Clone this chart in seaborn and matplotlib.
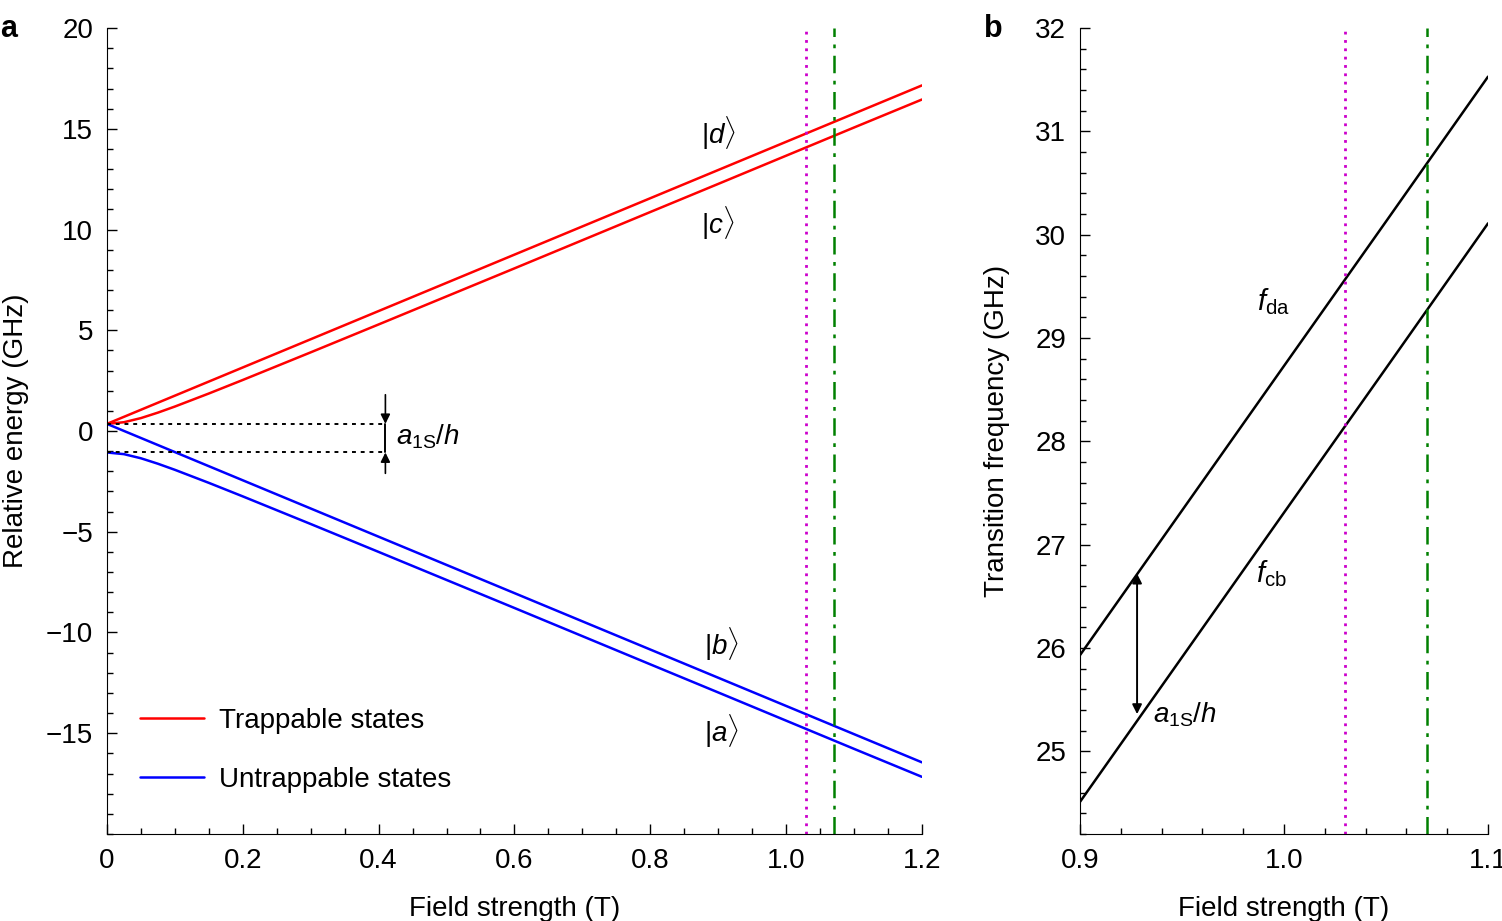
import numpy as np
import pandas as pd
import seaborn as sns
import matplotlib.pyplot as plt
from matplotlib.ticker import MultipleLocator

# Panel a: energy levels vs field
field = [0, 0.025, 0.05, 0.075, 0.1, 0.15, 0.2, 0.3, 0.4, 0.5, 0.6,
         0.7, 0.8, 0.9, 1.0, 1.1, 1.2]
state_d = [0.355, 0.705, 1.055, 1.405, 1.755, 2.455, 3.155, 4.555, 5.955,
           7.355, 8.755, 10.155, 11.555, 12.955, 14.355, 15.755, 17.155]
state_c = [0.355, 0.437, 0.642, 0.913, 1.215, 1.862, 2.534, 3.905, 5.29,
           6.682, 8.073, 9.471, 10.87, 12.265, 13.665, 15.065, 16.455]
state_b = [0.355, 0.005, -0.345, -0.695, -1.045, -1.745, -2.445, -3.845,
           -5.245, -6.645, -8.045, -9.445, -10.845, -12.245, -13.645,
           -15.045, -16.445]
state_a = [-1.065, -1.147, -1.352, -1.623, -1.925, -2.572, -3.244, -4.615,
           -6.0, -7.392, -8.783, -10.181, -11.58, -12.975, -14.375,
           -15.775, -17.165]

# Panel b: transition frequencies
field_b = [0.9, 0.95, 1.0, 1.05, 1.1]
f_da = [25.93, 27.33, 28.73, 30.128, 31.53]
f_cb = [24.51, 25.91, 27.31, 28.708, 30.11]

hyperfine = [0.355, -1.065]   # F=1 and F=0 at zero field
b_lines = [1.03, 1.07]

sns.set_style('ticks')
plt.rcParams['font.family'] = ['Liberation Sans', 'DejaVu Sans']
plt.rcParams['mathtext.fontset'] = 'custom'
plt.rcParams['mathtext.rm'] = 'Liberation Sans'
plt.rcParams['mathtext.it'] = 'Liberation Sans:italic'
plt.rcParams['font.size'] = 20
plt.rcParams['text.color'] = 'black'
plt.rcParams['axes.labelcolor'] = 'black'
plt.rcParams['axes.edgecolor'] = 'black'
plt.rcParams['xtick.color'] = 'black'
plt.rcParams['ytick.color'] = 'black'

fig = plt.figure(figsize=(15.02, 9.21), dpi=100)
ax1 = fig.add_axes([0.0712, 0.0945, 0.5426, 0.875])
ax2 = fig.add_axes([0.719, 0.0945, 0.2717, 0.875])

lw = 1.8
df = pd.DataFrame({'B': field, 'd': state_d, 'c': state_c, 'b': state_b, 'a': state_a})
sns.lineplot(data=df, x='B', y='d', color='#ff0000', lw=lw, ax=ax1, label='Trappable states')
sns.lineplot(data=df, x='B', y='c', color='#ff0000', lw=lw, ax=ax1)
sns.lineplot(data=df, x='B', y='b', color='#0000ff', lw=lw, ax=ax1, label='Untrappable states')
sns.lineplot(data=df, x='B', y='a', color='#0000ff', lw=lw, ax=ax1)

# hyperfine splitting marker
for y in hyperfine:
    ax1.plot([0, 0.41], [y, y], color='black', ls=(0, (2, 2.5)), lw=1.4)
ax1.plot([0.41, 0.41], hyperfine, color='black', lw=1.4)
ax1.annotate('', xy=(0.41, hyperfine[0]), xytext=(0.41, 1.8),
             arrowprops=dict(arrowstyle='-|>', color='black', lw=1.2, mutation_scale=14,
                             shrinkA=0, shrinkB=0))
ax1.annotate('', xy=(0.41, hyperfine[1]), xytext=(0.41, -2.1),
             arrowprops=dict(arrowstyle='-|>', color='black', lw=1.2, mutation_scale=14,
                             shrinkA=0, shrinkB=0))
ax1.text(0.425, -0.3, r'$a_{\mathrm{1S}}/h$', fontsize=20, va='center')

ax1.text(0.9, 14.8, r'$|d\rangle$', fontsize=20, ha='center', va='center')
ax1.text(0.9, 10.3, r'$|c\rangle$', fontsize=20, ha='center', va='center')
ax1.text(0.905, -10.6, r'$|b\rangle$', fontsize=20, ha='center', va='center')
ax1.text(0.905, -14.9, r'$|a\rangle$', fontsize=20, ha='center', va='center')

dfb = pd.DataFrame({'B': field_b, 'da': f_da, 'cb': f_cb})
sns.lineplot(data=dfb, x='B', y='da', color='black', lw=lw, ax=ax2)
sns.lineplot(data=dfb, x='B', y='cb', color='black', lw=lw, ax=ax2)
ax2.annotate('', xy=(0.928, 26.72), xytext=(0.928, 25.36),
             arrowprops=dict(arrowstyle='<|-|>', color='black', lw=1.4, mutation_scale=14,
                             shrinkA=0, shrinkB=0))
ax2.text(0.995, 29.35, r'$f_{\mathrm{da}}$', fontsize=21, ha='center', va='center')
ax2.text(0.994, 26.72, r'$f_{\mathrm{cb}}$', fontsize=21, ha='center', va='center')
ax2.text(0.936, 25.35, r'$a_{\mathrm{1S}}/h$', fontsize=20, va='center')

for ax in (ax1, ax2):
    ax.axvline(b_lines[0], color='#cc00cc', ls=(0, (1, 2)), lw=2)
    ax.axvline(b_lines[1], color='#008000', ls=(0, (7, 3, 1.5, 3)), lw=1.8)
    sns.despine(ax=ax)
    ax.tick_params(which='major', direction='in', length=7, width=1, labelsize=20, pad=10)
    ax.tick_params(which='minor', direction='in', length=4, width=1)
    ax.set_xlabel('Field strength (T)', fontsize=20, labelpad=16)

ax1.set_xlim(0, 1.2)
ax1.set_ylim(-20, 20)
ax1.set_xticks([0, 0.2, 0.4, 0.6, 0.8, 1.0, 1.2])
ax1.set_xticklabels(['0', '0.2', '0.4', '0.6', '0.8', '1.0', '1.2'])
ax1.set_yticks([-15, -10, -5, 0, 5, 10, 15, 20])
ax1.xaxis.set_minor_locator(MultipleLocator(0.05))
ax1.yaxis.set_minor_locator(MultipleLocator(1))
ax1.set_ylabel('Relative energy (GHz)', fontsize=20, labelpad=12)
ax1.legend(loc='lower left', bbox_to_anchor=(0.01, 0.02), frameon=False, fontsize=20,
           handlelength=2.3, handletextpad=0.55, labelspacing=1.2)

ax2.set_xlim(0.9, 1.1)
ax2.set_ylim(24.2, 32)
ax2.set_xticks([0.9, 1.0, 1.1])
ax2.set_xticklabels(['0.9', '1.0', '1.1'])
ax2.set_yticks(range(25, 33))
ax2.xaxis.set_minor_locator(MultipleLocator(0.02))
ax2.yaxis.set_minor_locator(MultipleLocator(0.2))
ax2.set_ylabel('Transition frequency (GHz)', fontsize=20, labelpad=18)

fig.text(0.0, 0.985, 'a', fontsize=22, fontweight='bold', va='top')
fig.text(0.655, 0.985, 'b', fontsize=22, fontweight='bold', va='top')

fig.savefig('out.png', dpi=100)
